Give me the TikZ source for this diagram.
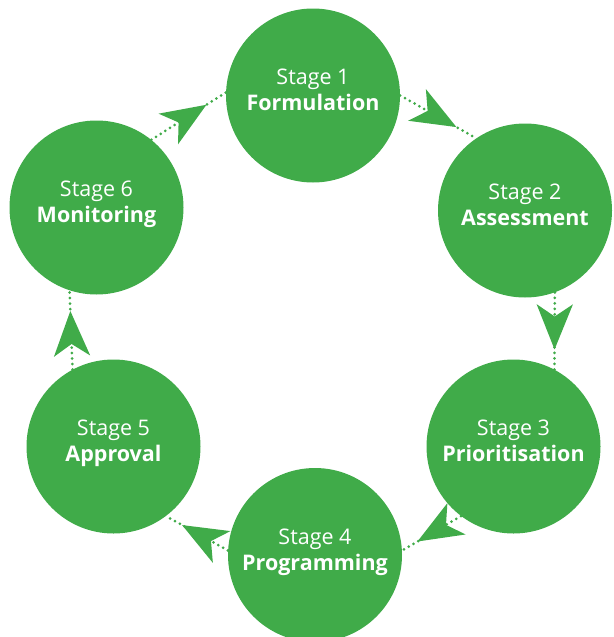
\documentclass[tikz,border=0pt]{standalone}
\usepackage{fontspec}
\setmainfont{Open Sans}
\usepackage{tikz}
\usetikzlibrary{arrows.meta,decorations.markings}

\definecolor{stagegreen}{RGB}{64,171,73}

\begin{document}
\begin{tikzpicture}[x=1pt, y=-1pt,
	stage/.style = {circle, fill=stagegreen, text=white, minimum size=174pt, inner sep=0pt, align=center,
		font=\fontsize{21.5}{26}\selectfont, execute at end node={\rule[-11pt]{0pt}{0pt}}},
	link/.style  = {stagegreen, line width=3pt, line cap=round, dash pattern=on 0pt off 5.5pt,
		postaction={decorate},
		decoration={markings, mark=at position 0.74 with {\arrow{Stealth[length=45pt, width=36pt, inset=12pt]}}}},
	]
	\useasboundingbox (0,0) rectangle (613,637);
	
	% the six stages round the cycle
	\node[stage] (s1) at (313,95.5)    {Stage 1\\\textbf{Formulation}};
	\node[stage] (s2) at (525,210.5)   {Stage 2\\\textbf{Assessment}};
	\node[stage] (s3) at (513.5,446.5) {Stage 3\\\textbf{Prioritisation}};
	\node[stage] (s4) at (315,555)     {Stage 4\\\textbf{Programming}};
	\node[stage] (s5) at (113.5,446.5) {Stage 5\\\textbf{Approval}};
	\node[stage] (s6) at (96.5,207.5)  {Stage 6\\\textbf{Monitoring}};
	
	% dotted links on the outer side, arrow head near the far end
	\foreach \a/\b/\from/\to in {s1/s2/0/124, s2/s3/-70/62, s3/s4/-127/3, s4/s5/177/-53, s5/s6/118/-108, s6/s1/51/178}
	\draw[link] (\a.\from) -- (\b.\to);
	
\end{tikzpicture}
\end{document}
